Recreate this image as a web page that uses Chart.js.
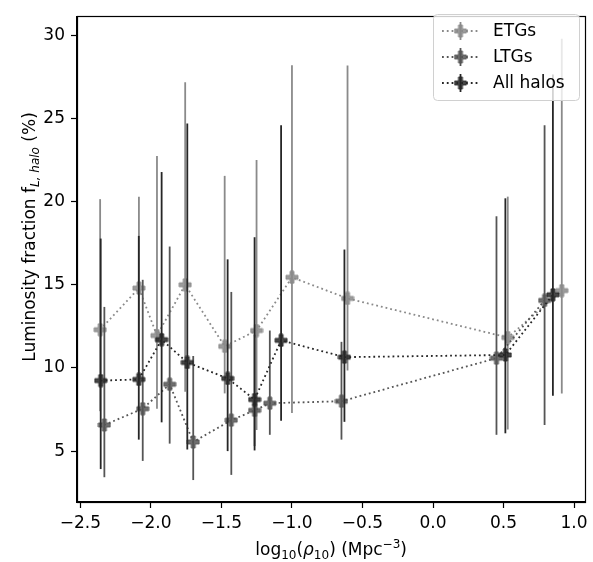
<!DOCTYPE html>
<html>
<head>
<meta charset="utf-8">
<script src="https://cdn.jsdelivr.net/npm/chart.js@4.4.0/dist/chart.umd.min.js"></script>
<style>
  html, body { margin: 0; padding: 0; background: #fff; }
  #wrap { width: 593px; height: 562px; }
</style>
</head>
<body>
<div id="wrap"><canvas id="chart" width="593" height="562"></canvas></div>
<script>
// values
const seriesNames = ['ETGs', 'LTGs', 'All halos'];

const etgX    = [-2.36, -2.085, -1.957, -1.757, -1.477, -1.251, -1.0, -0.606, 0.53, 0.913];
const etgY    = [12.3, 14.8, 11.95, 15.0, 11.3, 12.25, 15.45, 14.18, 11.83, 14.65];
const etgLow  = [7.4, 9.0, 7.55, 8.57, 8.47, 6.27, 7.29, 9.84, 6.3, 8.47];
const etgHigh = [20.15, 20.3, 22.75, 27.18, 21.55, 22.5, 28.2, 28.18, 20.3, 29.8];

const ltgX    = [-2.33, -2.058, -1.867, -1.70, -1.43, -1.265, -1.157, -0.649, 0.45, 0.791];
const ltgY    = [6.57, 7.55, 9.02, 5.55, 6.86, 7.45, 7.88, 8.0, 10.59, 14.06];
const ltgLow  = [3.43, 4.41, 5.45, 3.26, 3.57, 5.3, 5.98, 5.69, 5.98, 6.57];
const ltgHigh = [13.67, 15.3, 17.3, 10.72, 14.57, 12.0, 12.25, 11.57, 19.12, 24.6];

const allX    = [-2.356, -2.086, -1.924, -1.742, -1.456, -1.265, -1.077, -0.628, 0.513, 0.85];
const allY    = [9.24, 9.31, 11.7, 10.33, 9.37, 8.1, 11.66, 10.65, 10.78, 14.4];
const allLow  = [3.92, 5.69, 6.73, 5.1, 5.0, 5.04, 6.82, 6.76, 6.07, 8.33];
const allHigh = [17.78, 17.94, 21.78, 24.7, 16.53, 17.86, 24.6, 17.12, 20.2, 27.65];

const xTicks = [-2.5, -2.0, -1.5, -1.0, -0.5, 0.0, 0.5, 1.0];
const yTicks = [5, 10, 15, 20, 25, 30];

const colors = ['#8a8a8a', '#555555', '#262626'];
const FONT = 'DejaVu Sans';
const FS = 17;

// filled plus marker, like matplotlib 'P'
function makePlus(color, size) {
    const c = document.createElement('canvas');
    c.width = size + 2; c.height = size + 2;
    const g = c.getContext('2d');
    const m = 1, s = size, t = size / 3;
    g.beginPath();
    g.moveTo(m + t, m); g.lineTo(m + 2 * t, m); g.lineTo(m + 2 * t, m + t);
    g.lineTo(m + s, m + t); g.lineTo(m + s, m + 2 * t); g.lineTo(m + 2 * t, m + 2 * t);
    g.lineTo(m + 2 * t, m + s); g.lineTo(m + t, m + s); g.lineTo(m + t, m + 2 * t);
    g.lineTo(m, m + 2 * t); g.lineTo(m, m + t); g.lineTo(m + t, m + t);
    g.closePath();
    g.globalAlpha = 0.85;
    g.fillStyle = color;
    g.fill();
    g.lineWidth = 1;
    g.strokeStyle = color;
    g.stroke();
    return c;
}

function pts(xs, ys) {
    return xs.map((x, i) => ({ x: x, y: ys[i] }));
}

function fmtMinus(s) {
    return s.replace('-', '\u2212');
}

// draw a run of text pieces (normal, italic, sub/superscript)
function drawRich(ctx, segs, x, y, size) {
    let total = 0;
    segs.forEach(sg => {
        ctx.font = (sg.it ? 'italic ' : '') + Math.round(size * (sg.sc || 1)) + 'px ' + FONT;
        sg.w = ctx.measureText(sg.t).width;
        total += sg.w;
    });
    let cx = x - total / 2;
    segs.forEach(sg => {
        ctx.font = (sg.it ? 'italic ' : '') + Math.round(size * (sg.sc || 1)) + 'px ' + FONT;
        ctx.fillText(sg.t, cx, y + (sg.dy || 0));
        cx += sg.w;
    });
}

const errorBars = {
    id: 'errorBars',
    beforeDatasetDraw(chart, args) {
        const ds = chart.data.datasets[args.index];
        const ctx = chart.ctx, xs = chart.scales.x, ys = chart.scales.y;
        ctx.save();
        ctx.strokeStyle = ds.borderColor;
        ctx.lineWidth = 1.8;
        ds.data.forEach((p, i) => {
            const px = xs.getPixelForValue(p.x);
            ctx.beginPath();
            ctx.moveTo(px, ys.getPixelForValue(ds.errLow[i]));
            ctx.lineTo(px, ys.getPixelForValue(ds.errHigh[i]));
            ctx.stroke();
        });
        ctx.restore();
    }
};

const frameAndText = {
    id: 'frameAndText',
    afterDraw(chart) {
        const ctx = chart.ctx, a = chart.chartArea;
        ctx.save();
        // full box
        ctx.strokeStyle = '#000';
        ctx.lineWidth = 1.2;
        ctx.strokeRect(Math.round(a.left) + 0.5, Math.round(a.top) + 0.5,
            Math.round(a.right - a.left), Math.round(a.bottom - a.top));

        // axis titles
        ctx.fillStyle = '#000';
        ctx.textBaseline = 'alphabetic';
        ctx.textAlign = 'left';
        drawRich(ctx, [
            { t: 'log' },
            { t: '10', sc: 0.7, dy: 4 },
            { t: '(' },
            { t: '\u03c1', it: true },
            { t: '10', sc: 0.7, dy: 4 },
            { t: ') (Mpc' },
            { t: '\u22123', sc: 0.7, dy: -7 },
            { t: ')' }
        ], (a.left + a.right) / 2, 555, FS);

        ctx.save();
        ctx.translate(35, 237);
        ctx.rotate(-Math.PI / 2);
        drawRich(ctx, [
            { t: 'Luminosity fraction f' },
            { t: 'L, halo', it: true, sc: 0.7, dy: 4 },
            { t: ' (%)' }
        ], 0, 0, FS);
        ctx.restore();

        // legend
        const lx = 433, ly = 14, lw = 146, lh = 86;
        ctx.beginPath();
        ctx.roundRect(lx + 0.5, ly + 0.5, lw, lh, 4);
        ctx.fillStyle = 'rgba(255,255,255,0.8)';
        ctx.fill();
        ctx.strokeStyle = '#d0d0d0';
        ctx.lineWidth = 1;
        ctx.stroke();
        const rows = [31, 57, 83];
        chart.data.datasets.forEach((ds, i) => {
            const y = rows[i];
            ctx.save();
            ctx.strokeStyle = ds.borderColor;
            ctx.lineWidth = 1.8;
            ctx.setLineDash([1.8, 3]);
            ctx.beginPath();
            ctx.moveTo(442, y); ctx.lineTo(479, y);
            ctx.stroke();
            ctx.setLineDash([]);
            ctx.beginPath();
            ctx.moveTo(460.5, y - 9); ctx.lineTo(460.5, y + 9);
            ctx.stroke();
            const img = ds.pointStyle;
            ctx.drawImage(img, 460.5 - img.width / 2, y - img.height / 2);
            ctx.restore();
            ctx.fillStyle = '#000';
            ctx.font = FS + 'px ' + FONT;
            ctx.textBaseline = 'middle';
            ctx.fillText(ds.label, 493, y + 1);
        });
        ctx.restore();
    }
};

function series(i, xs, ys, lo, hi, order) {
    return {
        label: seriesNames[i],
        data: pts(xs, ys),
        errLow: lo,
        errHigh: hi,
        showLine: true,
        borderColor: colors[i],
        backgroundColor: colors[i],
        borderWidth: 1.8,
        borderDash: [1.8, 3],
        pointStyle: makePlus(colors[i], 12),
        pointRadius: 6,
        pointHoverRadius: 6,
        order: order
    };
}

const tickFont = { family: FONT, size: FS };

new Chart(document.getElementById('chart'), {
    type: 'scatter',
    data: {
        datasets: [
            series(0, etgX, etgY, etgLow, etgHigh, 2),
            series(1, ltgX, ltgY, ltgLow, ltgHigh, 1),
            series(2, allX, allY, allLow, allHigh, 0)
        ]
    },
    options: {
        responsive: false,
        animation: false,
        devicePixelRatio: 1,
        events: [],
        layout: { padding: { top: 5, right: 6, left: 0, bottom: 0 } },
        plugins: {
            legend: { display: false },
            tooltip: { enabled: false }
        },
        scales: {
            x: {
                type: 'linear',
                min: -2.524,
                max: 1.079,
                afterBuildTicks: s => { s.ticks = xTicks.map(v => ({ value: v })); },
                afterFit: s => { s.height = 60; },
                ticks: {
                    font: tickFont,
                    color: '#000',
                    maxRotation: 0,
                    autoSkip: false,
                    padding: 5,
                    callback: v => fmtMinus(Number(v).toFixed(1))
                },
                grid: { drawOnChartArea: false, tickLength: 6, tickColor: '#000', tickWidth: 1.2 },
                border: { color: '#000', width: 1.2 }
            },
            y: {
                type: 'linear',
                min: 1.94,
                max: 31.15,
                afterBuildTicks: s => { s.ticks = yTicks.map(v => ({ value: v })); },
                afterFit: s => { s.width = 77; },
                ticks: {
                    font: tickFont,
                    color: '#000',
                    padding: 6,
                    callback: v => String(v)
                },
                grid: { drawOnChartArea: false, tickLength: 6, tickColor: '#000', tickWidth: 1.2 },
                border: { color: '#000', width: 1.2 }
            }
        }
    },
    plugins: [errorBars, frameAndText]
});
</script>
</body>
</html>
